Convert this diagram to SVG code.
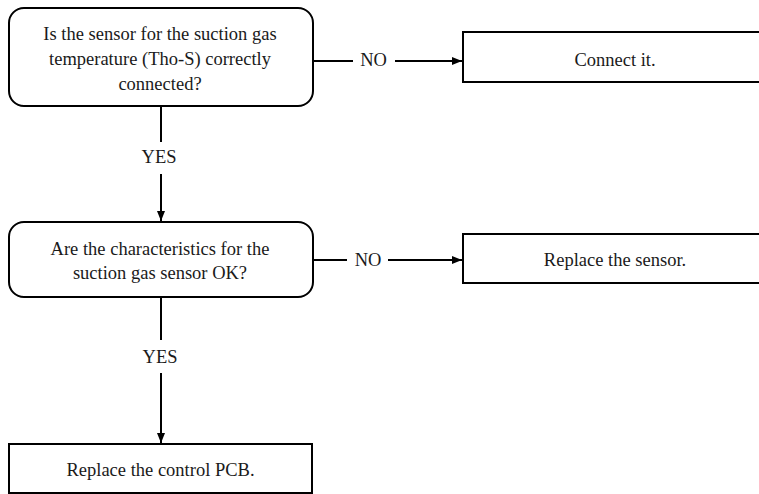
<svg xmlns="http://www.w3.org/2000/svg" width="759" height="494" viewBox="0 0 759 494">
<style>
.box{fill:#fff;stroke:#000;stroke-width:2}
.ln{fill:none;stroke:#000;stroke-width:2}
.t{font-family:'Liberation Serif','Times New Roman',serif;font-size:18.5px;fill:#1a1a1a;text-anchor:middle}
</style>
<defs>
<marker id="ah" viewBox="0 0 10 10" refX="10" refY="5" markerWidth="5" markerHeight="5" orient="auto" markerUnits="strokeWidth">
<path d="M0,1 L10,5 L0,9 z" fill="#000"/>
</marker>
</defs>
<rect width="759" height="494" fill="#fff"/>
<g id="connectors">
<line class="ln" x1="161" y1="106" x2="161" y2="142"/>
<line class="ln" x1="161" y1="174" x2="161" y2="221" marker-end="url(#ah)"/>
<text class="t" x="159" y="163">YES</text>
<line class="ln" x1="161" y1="297" x2="161" y2="340"/>
<line class="ln" x1="161" y1="373" x2="161" y2="443" marker-end="url(#ah)"/>
<text class="t" x="160" y="363">YES</text>
<line class="ln" x1="313" y1="61" x2="353" y2="61"/>
<line class="ln" x1="395" y1="61" x2="462" y2="61" marker-end="url(#ah)"/>
<text class="t" x="373.5" y="66">NO</text>
<line class="ln" x1="313" y1="260" x2="347" y2="260"/>
<line class="ln" x1="388" y1="260" x2="462" y2="260" marker-end="url(#ah)"/>
<text class="t" x="368" y="266">NO</text>
</g>
<g id="q1">
<rect class="box" x="9" y="8" width="304" height="98" rx="15" ry="15"/>
<text class="t" x="160" y="40">Is the sensor for the suction gas</text>
<text class="t" x="160" y="65">temperature (Tho-S) correctly</text>
<text class="t" x="160" y="90">connected?</text>
</g>
<g id="a1">
<rect class="box" x="463" y="32" width="310" height="50"/>
<text class="t" x="615" y="66">Connect it.</text>
</g>
<g id="q2">
<rect class="box" x="9" y="222" width="304" height="75" rx="15" ry="15"/>
<text class="t" x="160" y="255">Are the characteristics for the</text>
<text class="t" x="160" y="279">suction gas sensor OK?</text>
</g>
<g id="a2">
<rect class="box" x="463" y="234" width="310" height="49"/>
<text class="t" x="615" y="266">Replace the sensor.</text>
</g>
<g id="a3">
<rect class="box" x="9" y="444" width="303" height="49"/>
<text class="t" x="160.5" y="476">Replace the control PCB.</text>
</g>
</svg>
